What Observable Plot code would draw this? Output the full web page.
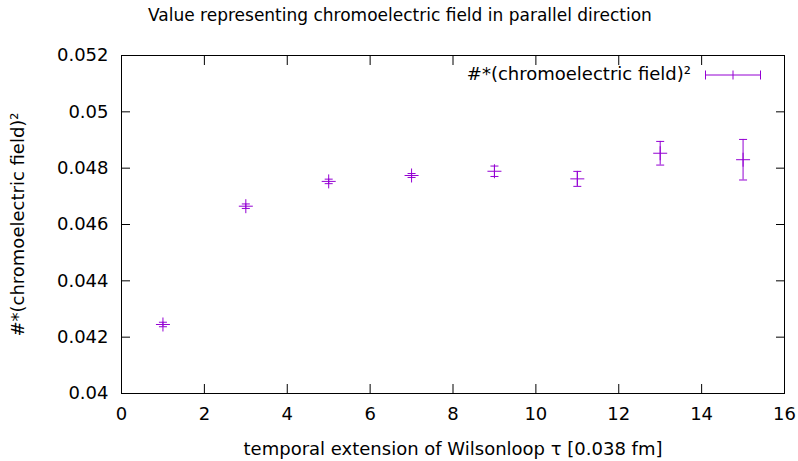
<!DOCTYPE html>
<html>
<head>
<meta charset="utf-8">
<script src="https://cdn.jsdelivr.net/npm/d3@7"></script>
<script src="https://cdn.jsdelivr.net/npm/@observablehq/plot@0.6"></script>
<style>
  html, body { margin: 0; padding: 0; background: #fff; }
  #wrap { position: relative; width: 798px; height: 461px; font-family: "DejaVu Sans", sans-serif; color: #000; }
  #title { height: 30px; line-height: 30px; padding-left: 148px; font-size: 17px; white-space: nowrap; }
  #legendText { position: absolute; right: 107px; top: 64px; font-size: 18px; line-height: 20px; white-space: nowrap; }
  #legendSwatch { position: absolute; left: 704px; top: 69px; }
</style>
</head>
<body>
<div id="wrap">
  <div id="title">Value representing chromoelectric field in parallel direction</div>
  <div id="chart"></div>
  <div id="legendText">#*(chromoelectric field)²</div>
  <svg id="legendSwatch" width="58" height="12">
    <g stroke="#9400d3" stroke-width="1" fill="none">
      <line x1="1.5" y1="6" x2="56.5" y2="6"></line>
      <line x1="1.5" y1="1.5" x2="1.5" y2="10.5"></line>
      <line x1="56.5" y1="1.5" x2="56.5" y2="10.5"></line>
      <line x1="29" y1="1.5" x2="29" y2="10.5"></line>
    </g>
  </svg>
</div>
<script>
const tau = [1, 3, 5, 7, 9, 11, 13, 15];
const fieldValue = [0.04245, 0.04665, 0.04753, 0.04774, 0.04789, 0.04762, 0.04853, 0.04830];
const fieldError = [0.00008, 0.00008, 0.00008, 0.00007, 0.000185, 0.000266, 0.00042, 0.00072];
const xTicks = [0, 2, 4, 6, 8, 10, 12, 14, 16];
const yTicks = [0.04, 0.042, 0.044, 0.046, 0.048, 0.05, 0.052];

const data = tau.map((t, i) => ({tau: t, v: fieldValue[i], e: fieldError[i]}));
const color = "#9400d3";

const plusSym = {draw(c) { c.moveTo(-7, 0); c.lineTo(7, 0); c.moveTo(0, -7); c.lineTo(0, 7); }};
const capSym = {draw(c) { c.moveTo(-4, 0); c.lineTo(4, 0); }};

const chart = Plot.plot({
  width: 798,
  height: 431,
  marginLeft: 121,
  marginRight: 14,
  marginTop: 25,
  marginBottom: 68,
  style: {fontFamily: "DejaVu Sans, sans-serif", fontSize: "18px", color: "#000", background: "#fff"},
  x: {domain: [0, 16]},
  y: {domain: [0.04, 0.052]},
  marks: [
    Plot.frame({stroke: "#000"}),
    Plot.axisX({anchor: "bottom", ticks: xTicks, tickSize: -9, fill: "none", label: null}),
    Plot.axisX({anchor: "top", ticks: xTicks, tickSize: -9, fill: "none", label: null}),
    Plot.axisY({anchor: "left", ticks: yTicks, tickSize: -9, fill: "none", label: null}),
    Plot.axisY({anchor: "right", ticks: yTicks, tickSize: -9, fill: "none", label: null}),
    Plot.axisX({anchor: "bottom", ticks: xTicks, tickSize: 0, tickPadding: 14, stroke: "none",
      tickFormat: d3.format("~g"), fontSize: 18,
      label: "temporal extension of Wilsonloop τ [0.038 fm]", labelAnchor: "center", labelArrow: "none", labelOffset: 61}),
    Plot.axisY({anchor: "left", ticks: yTicks, tickSize: 0, tickPadding: 13, stroke: "none",
      tickFormat: d3.format("~g"), fontSize: 18,
      label: "#*(chromoelectric field)²", labelAnchor: "center", labelArrow: "none", labelOffset: 110}),
    Plot.ruleX(data, {x: "tau", y1: d => d.v - d.e, y2: d => d.v + d.e, stroke: color, strokeWidth: 1}),
    Plot.dot(data, {x: "tau", y: d => d.v - d.e, symbol: capSym, stroke: color, strokeWidth: 1, fill: "none"}),
    Plot.dot(data, {x: "tau", y: d => d.v + d.e, symbol: capSym, stroke: color, strokeWidth: 1, fill: "none"}),
    Plot.dot(data, {x: "tau", y: "v", symbol: plusSym, stroke: color, strokeWidth: 1, fill: "none"})
  ]
});
document.getElementById("chart").appendChild(chart);
</script>
</body>
</html>
